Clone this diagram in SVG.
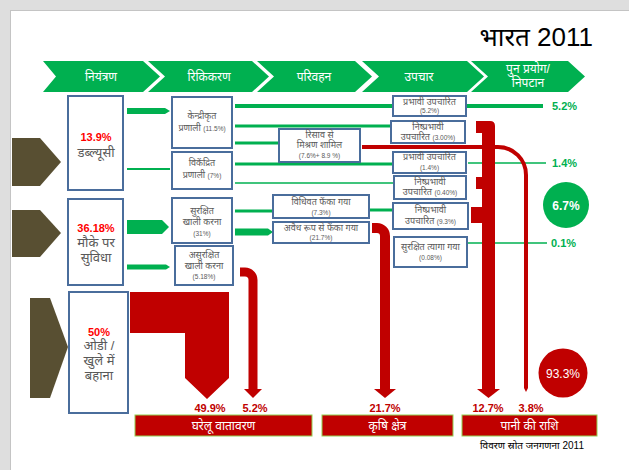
<svg xmlns="http://www.w3.org/2000/svg" width="629" height="470" viewBox="0 0 629 470">
<style>
  text { font-family: "Liberation Sans", "Noto Sans", sans-serif; }
  .page { fill: #ffffff; stroke: #c4c4c4; stroke-width: 1; }
  .step { fill: #00b050; }
  .steptxt { fill: #ffffff; font-size: 12px; text-anchor: middle; }
  .src { fill: #584f32; }
  .box { fill: #ffffff; stroke: #4a6d9c; stroke-width: 2; }
  .bigpct { fill: #ff0000; font-size: 11px; font-weight: bold; text-anchor: middle; }
  .bigtxt { fill: #595959; font-size: 13px; text-anchor: middle; }
  .t { fill: #595959; font-size: 9px; text-anchor: middle; }
  .n { fill: #595959; font-size: 6.5px; text-anchor: middle; }
  .g { stroke: #00b050; fill: none; }
  .ga { fill: #00b050; }
  .r { stroke: #c00000; fill: none; }
  .ra { fill: #c00000; }
  .gpct { fill: #00b050; font-size: 11px; font-weight: bold; }
  .rpct { fill: #c00000; font-size: 11px; font-weight: bold; text-anchor: middle; }
  .bar { fill: #c00000; stroke: #92d050; stroke-width: 1; }
  .bartxt { fill: #ffffff; font-size: 12px; text-anchor: middle; }
</style>

<!-- slide backdrop -->
<rect x="0" y="0" width="629" height="470" fill="#dedede"/>
<rect class="page" x="10.5" y="10.5" width="630" height="470"/>

<text x="593" y="46" font-size="26" text-anchor="end" fill="#000000">भारत 2011</text>

<!-- process steps -->
<g id="steps">
  <polygon class="step" points="43,61 143,61 160,76.5 143,92 43,92 56,76.5"/>
  <polygon class="step" points="148,61 252,61 269,76.5 252,92 148,92 165,76.5"/>
  <polygon class="step" points="257,61 355,61 372,76.5 355,92 257,92 274,76.5"/>
  <polygon class="step" points="362,61 467,61 484,76.5 467,92 362,92 379,76.5"/>
  <polygon class="step" points="471,61 568,61 585,76.5 568,92 471,92 488,76.5"/>
  <text class="steptxt" x="101" y="81">नियंत्रण</text>
  <text class="steptxt" x="209" y="81">रिकिकरण</text>
  <text class="steptxt" x="314" y="81">परिवहन</text>
  <text class="steptxt" x="419" y="81">उपचार</text>
  <text class="steptxt" x="528" y="73">पुन प्रयोग/</text>
  <text class="steptxt" x="528" y="87">निपटान</text>
</g>

<!-- source markers -->
<g id="sources">
  <polygon class="src" points="12,138 40,138 61,162 40,186 12,186"/>
  <polygon class="src" points="12,210 40,210 61,233 40,257 12,257"/>
  <polygon class="src" points="30,298 50,298 68,347 50,398 30,398"/>
</g>

<!-- connectors -->
<g id="connectors">
  <!-- containment to emptying -->
  <polygon class="ga" points="127,108 165,108 170,111 165,114 127,114"/>
  <line class="g" x1="127" y1="169" x2="170" y2="169" stroke-width="2"/>
  <polygon class="ga" points="127,220 162,220 169,227 162,234 127,234"/>
  <polygon class="ga" points="127,264.5 166,264.5 170,267 166,269.5 127,269.5"/>

  <!-- emptying onwards -->
  <line class="g" x1="235" y1="106" x2="392" y2="106" stroke-width="4"/>
  <line class="g" x1="235" y1="126" x2="390" y2="126" stroke-width="3"/>
  <line class="g" x1="235" y1="143" x2="279" y2="143" stroke-width="3"/>
  <line class="g" x1="235" y1="164" x2="393" y2="164" stroke-width="3"/>
  <line class="g" x1="235" y1="183" x2="394" y2="183" stroke-width="1.5" stroke="#5fcf8a"/>
  <line class="g" x1="235" y1="211" x2="273" y2="211" stroke-width="3"/>
  <polygon class="ga" points="235,228.5 268,228.5 273,232 268,235.5 235,235.5"/>
  <line class="g" x1="370" y1="210" x2="393" y2="210" stroke-width="3"/>

  <!-- outputs to reuse -->
  <line class="g" x1="466" y1="106" x2="543" y2="106" stroke-width="4"/>
  <line class="g" x1="468" y1="163" x2="546" y2="163" stroke-width="1.5"/>
  <line class="g" x1="468" y1="243" x2="547" y2="243" stroke-width="1.5"/>

  <!-- open defecation -->
  <polygon class="ra" points="130,292 229,292 229,378 207,399 185,378 185,333 130,333"/>
  <!-- unsafe emptying -->
  <path class="r" d="M240,272 H245 A8,8 0 0 1 253,280 V390" stroke-width="9"/>
  <polygon class="ra" points="244,389 262,389 253,398"/>
  <!-- illegal dumping -->
  <path class="r" d="M372,228 H377 A8,8 0 0 1 385,236 V390" stroke-width="10"/>
  <polygon class="ra" points="374,389 396,389 385,398"/>
  <!-- ineffective treatment collector -->
  <path class="ra" d="M476,121 H490 Q495,121 495,126 V390 H482 V223 H471 V207 H482 V189 H476 V177 H482 V133 H476 Z"/>
  <polygon class="ra" points="477,389 500,389 488.5,398"/>
  <!-- leakage -->
  <path class="r" d="M362,147 H498 A28,28 0 0 1 526,175 V388" stroke-width="4"/>
  <polygon class="ra" points="524,388 528,388 526,392"/>
</g>

<!-- containment nodes -->
<g id="node-wc">
  <rect class="box" x="68" y="96" width="55" height="94"/>
  <text class="bigpct" x="96" y="141">13.9%</text>
  <text class="bigtxt" x="96" y="157">डब्ल्यूसी</text>
</g>
<g id="node-onsite">
  <rect class="box" x="68" y="199" width="55" height="86"/>
  <text class="bigpct" x="96" y="232">36.18%</text>
  <text class="bigtxt" x="96" y="247">मौके पर</text>
  <text class="bigtxt" x="96" y="262">सुविधा</text>
</g>
<g id="node-od">
  <rect class="box" x="69" y="292" width="59" height="121"/>
  <text class="bigpct" x="99" y="336">50%</text>
  <text class="bigtxt" x="99" y="350">ओडी /</text>
  <text class="bigtxt" x="99" y="365">खुले में</text>
  <text class="bigtxt" x="99" y="380">बहाना</text>
</g>

<!-- emptying nodes -->
<g id="node-central">
  <rect class="box" x="172" y="97" width="60" height="51"/>
  <text class="t" x="202" y="119">केन्द्रीकृत</text>
  <text class="t" x="202" y="131">प्रणाली <tspan font-size="6.5">(11.5%)</tspan></text>
</g>
<g id="node-decentral">
  <rect class="box" x="172" y="152" width="60" height="37"/>
  <text class="t" x="202" y="166">विकेंद्रित</text>
  <text class="t" x="202" y="178">प्रणाली <tspan font-size="6.5">(7%)</tspan></text>
</g>
<g id="node-safe-empty">
  <rect class="box" x="172" y="198" width="60" height="45"/>
  <text class="t" x="202" y="214">सुरक्षित</text>
  <text class="t" x="202" y="225">खाली करना</text>
  <text class="n" x="202" y="236">(31%)</text>
</g>
<g id="node-unsafe-empty">
  <rect class="box" x="175" y="246" width="58" height="39"/>
  <text class="t" x="204" y="258">असुरक्षित</text>
  <text class="t" x="204" y="269">खाली करना</text>
  <text class="n" x="204" y="279">(5.18%)</text>
</g>

<!-- transport nodes -->
<g id="node-leak">
  <rect class="box" x="279" y="129" width="81" height="33"/>
  <text class="t" x="319.5" y="138">रिसाव से</text>
  <text class="t" x="319.5" y="148">मिश्रण शामिल</text>
  <text class="n" x="319.5" y="158">(7.6%+ 8.9 %)</text>
</g>
<g id="node-proper">
  <rect class="box" x="273" y="195" width="96" height="23"/>
  <text class="t" x="321" y="205">विधिवत फेंका गया</text>
  <text class="n" x="321" y="215">(7.3%)</text>
</g>
<g id="node-illegal">
  <rect class="box" x="273" y="222" width="96" height="21"/>
  <text class="t" x="321" y="231">अवैध रूप से फेंका गया</text>
  <text class="n" x="321" y="240">(21.7%)</text>
</g>

<!-- treatment nodes -->
<g id="node-eff-1">
  <rect class="box" x="393" y="96" width="73" height="20"/>
  <text class="t" x="429.5" y="105">प्रभावी उपचारित</text>
  <text class="n" x="429.5" y="113">(5.2%)</text>
</g>
<g id="node-ineff-1">
  <rect class="box" x="391" y="121" width="74" height="22"/>
  <text class="t" x="428" y="130">निष्प्रभावी</text>
  <text class="t" x="428" y="140">उपचारित <tspan font-size="6.5">(3.00%)</tspan></text>
</g>
<g id="node-eff-2">
  <rect class="box" x="393" y="152" width="73" height="21"/>
  <text class="t" x="429.5" y="160">प्रभावी उपचारित</text>
  <text class="n" x="429.5" y="170">(1.4%)</text>
</g>
<g id="node-ineff-2">
  <rect class="box" x="394" y="176" width="72" height="23"/>
  <text class="t" x="430" y="185">निष्प्रभावी</text>
  <text class="t" x="430" y="195">उपचारित <tspan font-size="6.5">(0.40%)</tspan></text>
</g>
<g id="node-ineff-3">
  <rect class="box" x="393" y="203" width="75" height="26"/>
  <text class="t" x="430.5" y="213">निष्प्रभावी</text>
  <text class="t" x="430.5" y="224">उपचारित <tspan font-size="6.5">(9.3%)</tspan></text>
</g>
<g id="node-safe-disposed">
  <rect class="box" x="394" y="237" width="73" height="30"/>
  <text class="t" x="430.5" y="250">सुरक्षित त्यागा गया</text>
  <text class="n" x="430.5" y="260">(0.08%)</text>
</g>

<!-- reuse / disposal outcomes -->
<g id="outcomes">
  <text class="gpct" x="552" y="110">5.2%</text>
  <text class="gpct" x="552" y="167">1.4%</text>
  <text class="gpct" x="551" y="247">0.1%</text>
  <circle cx="566" cy="205" r="23" fill="#00b050"/>
  <text x="566" y="209.5" font-size="12" font-weight="bold" fill="#ffffff" text-anchor="middle">6.7%</text>
  <circle cx="563" cy="373" r="24.5" fill="#c00000"/>
  <text x="563" y="377.5" font-size="12" fill="#ffffff" text-anchor="middle">93.3%</text>
</g>

<!-- receiving environments -->
<g id="receivers">
  <text class="rpct" x="210" y="412">49.9%</text>
  <text class="rpct" x="255" y="412">5.2%</text>
  <text class="rpct" x="385" y="412">21.7%</text>
  <text class="rpct" x="488" y="412">12.7%</text>
  <text class="rpct" x="531" y="412">3.8%</text>
  <rect class="bar" x="135" y="415" width="177" height="21"/>
  <text class="bartxt" x="223.5" y="430">घरेलू वातावरण</text>
  <rect class="bar" x="322" y="415" width="131" height="21"/>
  <text class="bartxt" x="387.5" y="430">कृषि क्षेत्र</text>
  <rect class="bar" x="462" y="415" width="135" height="21"/>
  <text class="bartxt" x="529.5" y="430">पानी की राशि</text>
</g>

<text x="532" y="449" font-size="10" fill="#000000" text-anchor="middle">विवरण स्रोत जनगणना 2011</text>
</svg>
